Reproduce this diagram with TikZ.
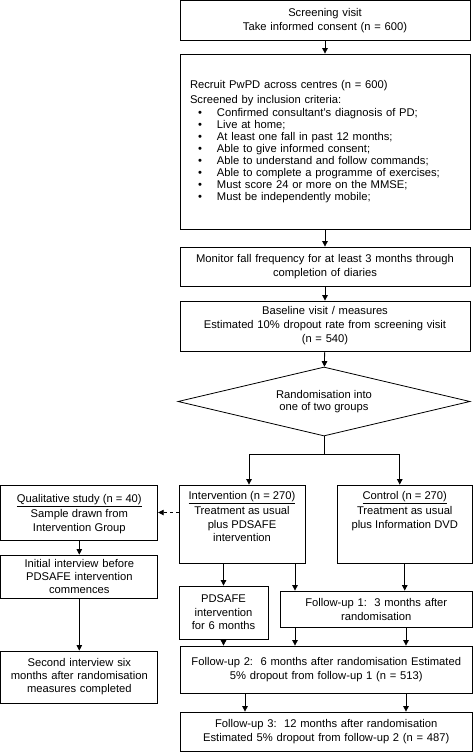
\documentclass[tikz,border=0pt]{standalone}
\usepackage{fontspec}
\setmainfont{Liberation Sans}
\usetikzlibrary{arrows.meta,shapes.geometric,calc}
\newcommand{\bul}[1]{\hspace*{8pt}\makebox[19pt][l]{\textbullet}\mbox{#1}}
\begin{document}
\begin{tikzpicture}[x=1pt,y=-1pt,
  box/.style={draw, line width=0.8pt, align=center, inner sep=1pt,
    font=\fontsize{11.2}{14}\selectfont},
  arr/.style={line width=0.8pt, -{Triangle[length=5.5pt,width=5.5pt]}},
]
\useasboundingbox (0,0) rectangle (473,752);

\node[box, minimum width=290pt, minimum height=40pt, text width=284pt] (b1) at (325,20.5)
  {Screening visit\\Take informed consent (n = 600)};

\node[box, minimum width=290pt, minimum height=175pt, text width=270pt, inner xsep=10pt,
  align=left, font=\fontsize{11.2}{12}\selectfont] (b2) at (325,141.5)
  {Recruit PwPD across centres (n = 600)\\[3pt]
   Screened by inclusion criteria:\\[1.5pt]
   \bul{Confirmed consultant's diagnosis of PD;}\\
   \bul{Live at home;}\\
   \bul{At least one fall in past 12 months;}\\
   \bul{Able to give informed consent;}\\
   \bul{Able to understand and follow commands;}\\
   \bul{Able to complete a programme of exercises;}\\
   \bul{Must score 24 or more on the MMSE;}\\
   \bul{Must be independently mobile;}};

\node[box, minimum width=290pt, minimum height=39pt, text width=284pt] (b3) at (325,266.5)
  {Monitor fall frequency for at least 3 months through\\completion of diaries};

\node[box, minimum width=290pt, minimum height=50pt, text width=284pt] (b4) at (325,326)
  {Baseline visit / measures\\Estimated 10\% dropout rate from screening visit\\(n = 540)};

\node[box, diamond, aspect=4.2, inner sep=0pt, minimum width=292pt, minimum height=69pt,
  font=\fontsize{11.2}{12.6}\selectfont] (d) at (324,401.5)
  {Randomisation into\\one of two groups};

\node[box, minimum width=157pt, minimum height=55pt, inner sep=0pt,
  font=\fontsize{11.2}{13.5}\selectfont] (qual) at (79.3,512.5)
  {\parbox[c][49pt][c]{150pt}{\centering\vspace*{3pt}\underline{Qualitative study (n = 40)}\\[2pt]Sample drawn from\\Intervention Group}};

\node[box, minimum width=126pt, minimum height=78pt, inner sep=0pt,
  font=\fontsize{11.2}{13.5}\selectfont] (interv) at (242,524)
  {\parbox[c][66pt][t]{120pt}{\centering\underline{Intervention (n = 270)}\\[2pt]Treatment as usual\\plus PDSAFE\\intervention}};

\node[box, minimum width=135.5pt, minimum height=78pt, inner sep=0pt,
  font=\fontsize{11.2}{13.5}\selectfont] (control) at (404.75,524)
  {\parbox[c][66pt][t]{130pt}{\centering\underline{Control (n = 270)}\\[2pt]Treatment as usual\\plus Information DVD}};

\node[box, minimum width=157pt, minimum height=43pt, text width=150pt,
  font=\fontsize{11.2}{13}\selectfont] (init) at (79.3,576.5)
  {Initial interview before\\PDSAFE intervention\\commences};

\node[box, minimum width=157pt, minimum height=52pt, text width=150pt,
  font=\fontsize{11.2}{13}\selectfont] (second) at (79.3,677)
  {Second interview six\\months after randomisation\\measures completed};

\node[box, minimum width=89pt, minimum height=53pt, text width=85pt,
  font=\fontsize{11.2}{13.5}\selectfont] (pds) at (223.5,612.5)
  {PDSAFE\\intervention\\for 6 months};

\node[box, minimum width=192.5pt, minimum height=36pt, text width=188pt] (fu1) at (376.25,609)
  {Follow-up 1:\ \ 3 months after\\randomisation};

\node[box, minimum width=292.5pt, minimum height=47pt, text width=288pt] (fu2) at (326.25,669.5)
  {Follow-up 2:\ \ 6 months after randomisation Estimated\\5\% dropout from follow-up 1 (n = 513)};

\node[box, minimum width=292.5pt, minimum height=39.5pt, text width=288pt] (fu3) at (326.25,731.75)
  {Follow-up 3:\ \ 12 months after randomisation\\Estimated 5\% dropout from follow-up 2 (n = 487)};

% connectors
\draw[arr] (b1) -- (b2);
\draw[arr] (b2) -- (b3);
\draw[arr] (b3) -- (b4);
\draw[arr] (b4) -- (d);
\draw[line width=0.8pt] (d.south) -- ++(0,-18pt) coordinate (split);
\draw[arr] (split) -| ([xshift=7pt]interv.north);
\draw[arr] (split) -| ([xshift=-5pt]control.north);
\draw[arr, dashed] (qual.east -| interv.west) -- (qual.east);
\draw[arr] (qual) -- (init);
\draw[arr] (init) -- (second);
\draw[arr] (interv.south -| pds.north) -- (pds.north);
\draw[arr] ([xshift=53pt]interv.south) -- ([xshift=53pt]interv.south |- fu1.north);
\draw[arr] (control.south) -- (control.south |- fu1.north);
\draw[arr] (pds.south) -- (pds.south |- fu2.north);
\draw[arr] ([xshift=-81.25pt]fu1.south) -- ([xshift=-81.25pt]fu1.south |- fu2.north);
\draw[arr] ([xshift=29.75pt]fu1.south) -- ([xshift=29.75pt]fu1.south |- fu2.north);
\draw[arr] ([xshift=-81.25pt]fu2.south) -- ([xshift=-81.25pt]fu2.south |- fu3.north);
\draw[arr] ([xshift=79.75pt]fu2.south) -- ([xshift=79.75pt]fu2.south |- fu3.north);
\end{tikzpicture}
\end{document}
